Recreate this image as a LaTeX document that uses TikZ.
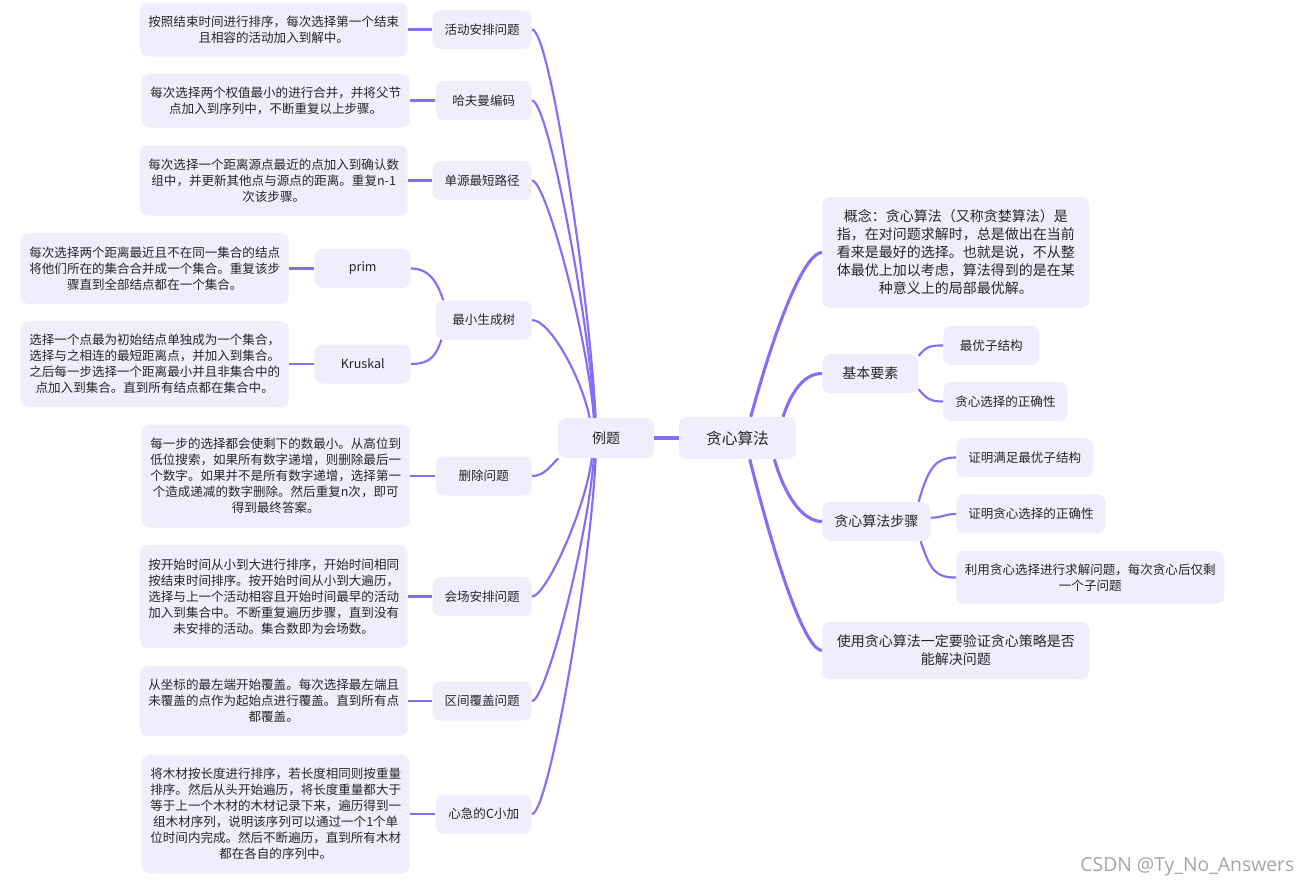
\documentclass[tikz,border=0pt]{standalone}
\usepackage{fontspec}
\setmainfont{Noto Sans CJK SC}
\newfontfamily\markfont{Open Sans}
\usepackage{tikz}
\usetikzlibrary{positioning}
\definecolor{mmline}{RGB}{134,108,248}
\definecolor{mmfill}{RGB}{240,238,253}
\definecolor{mmtext}{RGB}{38,38,38}
\definecolor{mmgray}{RGB}{165,165,165}

\begin{document}
\begin{tikzpicture}[x=0.75pt,y=0.75pt,
  box/.style={fill=mmfill,rounded corners=6pt,text=mmtext,align=center,inner xsep=9pt},
  rootbox/.style={box,minimum width=87.75pt,minimum height=31.5pt,font=\fontsize{11.8}{14}\selectfont},
  topic/.style={box,minimum width=72pt,minimum height=29.25pt,font=\fontsize{10.5}{13.5}\selectfont},
  leaf/.style={box,minimum width=72pt,minimum height=29.25pt,font=\fontsize{9.4}{12}\selectfont},
  note/.style={box,inner xsep=4pt,minimum width=201pt,font=\fontsize{9.4}{12}\selectfont},
  trunk/.style={mmline,line width=2.3pt},
  twig/.style={mmline,line width=1.6pt}
]
  \useasboundingbox (0,0) rectangle (1312,-885);

  % Centre
  \node[rootbox] (root) at (737.5,-438) {贪心算法};
  \node[topic,minimum height=30pt] (ex) at (606,-438) {例题};
  \draw[mmline,line width=3pt] (ex) -- (root);

  % Right side
  \node[topic,anchor=west,minimum width=200.25pt,minimum height=83.25pt] (idea) at (822,-252.5)
    {概念：贪心算法（又称贪婪算法）是\\指，在对问题求解时，总是做出在当前\\看来是最好的选择。也就是说，不从整\\体最优上加以考虑，算法得到的是在某\\种意义上的局部最优解。};
  \node[topic,anchor=west] (base) at (822,-373.5) {基本要素};
  \node[leaf,anchor=west] (opt) at (943,-345.5) {最优子结构};
  \node[leaf,anchor=west] (pick) at (943,-401.5) {贪心选择的正确性};
  \node[topic,anchor=west] (steps) at (822,-521.5) {贪心算法步骤};
  \node[leaf,anchor=west] (s1) at (956,-457.5) {证明满足最优子结构};
  \node[leaf,anchor=west] (s2) at (956,-514) {证明贪心选择的正确性};
  \node[leaf,anchor=west,inner xsep=4pt,minimum width=201pt,minimum height=39.75pt] (s3) at (956,-577.5)
    {利用贪心选择进行求解问题，每次贪心后仅剩\\一个子问题};
  \node[topic,anchor=west,minimum width=200.25pt,minimum height=42.75pt] (warn) at (822,-650.5)
    {使用贪心算法一定要验证贪心策略是否\\能解决问题};

  \draw[trunk] (root.58) .. controls +(30,110) and +(-15,0) .. (idea.west);
  \draw[trunk] (root.25) .. controls +(8,25) and +(-18,0) .. (base.west);
  \draw[trunk] (root.-30) .. controls +(10,-35) and +(-20,0) .. (steps.west);
  \draw[trunk] (root.-60) .. controls +(30,-120) and +(-15,0) .. (warn.west);
  \draw[twig] (base.20) .. controls +(8,10) and +(-12,0) .. (opt.west);
  \draw[twig] (base.-18) .. controls +(8,-10) and +(-12,0) .. (pick.west);
  \draw[twig] (steps.25) .. controls +(10,35) and +(-20,0) .. (s1.west);
  \draw[twig] (steps.4) .. controls +(12,0) and +(-12,0) .. (s2.west);
  \draw[twig] (steps.-24) .. controls +(10,-30) and +(-20,0) .. (s3.west);

  % Left side: problems
  \node[leaf,anchor=east] (act) at (532,-29.5) {活动安排问题};
  \node[leaf,anchor=east] (huff) at (532,-100.5) {哈夫曼编码};
  \node[leaf,anchor=east] (sssp) at (532,-180.5) {单源最短路径};
  \node[leaf,anchor=east] (mst) at (532,-320) {最小生成树};
  \node[leaf,anchor=east] (prim) at (411,-268.5) {prim};
  \node[leaf,anchor=east] (kru) at (411,-364) {Kruskal};
  \node[leaf,anchor=east] (cut) at (532,-476) {删除问题};
  \node[leaf,anchor=east] (hall) at (532,-596.5) {会场安排问题};
  \node[leaf,anchor=east] (cover) at (532,-701) {区间覆盖问题};
  \node[leaf,anchor=east] (wood) at (532,-814) {心急的C小加};

  \draw[twig] (act.east) .. controls +(18,0) and +(-6,120) .. (ex.117);
  \draw[twig] (huff.east) .. controls +(16,0) and +(-6,100) .. (ex.119);
  \draw[twig] (sssp.east) .. controls +(14,0) and +(-6,80) .. (ex.121);
  \draw[twig] (mst.east) .. controls +(18,0) and +(-8,40) .. (ex.129);
  \draw[twig] (cut.east) .. controls +(12,0) and +(-8,-8) .. (ex.203);
  \draw[twig] (hall.east) .. controls +(14,0) and +(-6,-50) .. (ex.235);
  \draw[twig] (cover.east) .. controls +(14,0) and +(-6,-80) .. (ex.239);
  \draw[twig] (wood.east) .. controls +(16,0) and +(-6,-120) .. (ex.243);
  \draw[twig] (prim.east) .. controls +(20,0) and +(-5,15) .. (mst.154);
  \draw[twig] (kru.east) .. controls +(20,0) and +(-5,-15) .. (mst.205);

  % Notes
  \node[note,anchor=east,minimum height=40.5pt] (actnote) at (408,-29.5)
    {按照结束时间进行排序，每次选择第一个结束\\且相容的活动加入到解中。};
  \node[note,anchor=east,minimum height=40.5pt] (huffnote) at (410,-100.5)
    {每次选择两个权值最小的进行合并，并将父节\\点加入到序列中，不断重复以上步骤。};
  \node[note,anchor=east,minimum height=52.5pt] (ssspnote) at (408,-180.5)
    {每次选择一个距离源点最近的点加入到确认数\\组中，并更新其他点与源点的距离。重复n-1\\次该步骤。};
  \node[note,anchor=east,minimum height=53.25pt] (primnote) at (289,-268.5)
    {每次选择两个距离最近且不在同一集合的结点\\将他们所在的集合合并成一个集合。重复该步\\骤直到全部结点都在一个集合。};
  \node[note,anchor=east,minimum height=64.5pt] (krunote) at (289,-364)
    {选择一个点最为初始结点单独成为一个集合，\\选择与之相连的最短距离点，并加入到集合。\\之后每一步选择一个距离最小并且非集合中的\\点加入到集合。直到所有结点都在集合中。};
  \node[note,anchor=east,minimum height=77.25pt] (cutnote) at (410,-476)
    {每一步的选择都会使剩下的数最小。从高位到\\低位搜索，如果所有数字递增，则删除最后一\\个数字。如果并不是所有数字递增，选择第一\\个造成递减的数字删除。然后重复n次，即可\\得到最终答案。};
  \node[note,anchor=east,minimum height=77.25pt] (hallnote) at (408,-596.5)
    {按开始时间从小到大进行排序，开始时间相同\\按结束时间排序。按开始时间从小到大遍历，\\选择与上一个活动相容且开始时间最早的活动\\加入到集合中。不断重复遍历步骤，直到没有\\未安排的活动。集合数即为会场数。};
  \node[note,anchor=east,minimum height=52.5pt] (covernote) at (408,-701)
    {从坐标的最左端开始覆盖。每次选择最左端且\\未覆盖的点作为起始点进行覆盖。直到所有点\\都覆盖。};
  \node[note,anchor=east,minimum height=89.25pt] (woodnote) at (410,-814)
    {将木材按长度进行排序，若长度相同则按重量\\排序。然后从头开始遍历，将长度重量都大于\\等于上一个木材的木材记录下来，遍历得到一\\组木材序列，说明该序列可以通过一个1个单\\位时间内完成。然后不断遍历，直到所有木材\\都在各自的序列中。};

  \draw[twig] (actnote) -- (act);
  \draw[twig] (huffnote) -- (huff);
  \draw[twig] (ssspnote) -- (sssp);
  \draw[twig] (primnote) -- (prim);
  \draw[twig] (krunote) -- (kru);
  \draw[twig] (cutnote) -- (cut);
  \draw[twig] (hallnote) -- (hall);
  \draw[twig] (covernote) -- (cover);
  \draw[twig] (woodnote) -- (wood);

  % Watermark
  \node[font=\markfont\fontsize{14.5}{16}\selectfont,text=mmgray,anchor=base east] (mark) at (1299,-871)
    {CSDN @Ty\_No\_Answers};
\end{tikzpicture}
\end{document}
